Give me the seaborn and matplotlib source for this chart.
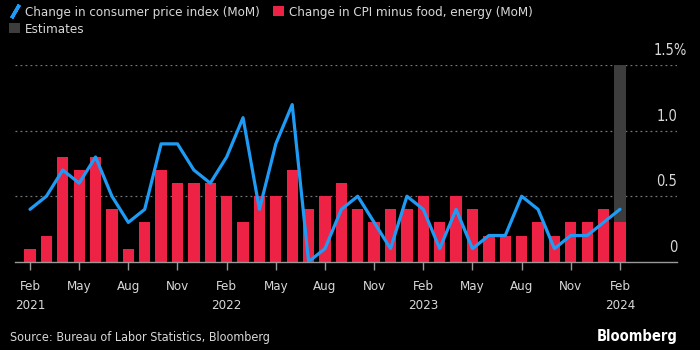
import numpy as np
import pandas as pd
import seaborn as sns
import matplotlib.pyplot as plt
from matplotlib.lines import Line2D
from matplotlib.patches import Patch

# monthly data, Feb 2021 .. Feb 2024
months = pd.date_range('2021-02-01', '2024-02-01', freq='MS')
cpi = [0.4, 0.5, 0.7, 0.6, 0.8, 0.5, 0.3, 0.4, 0.9, 0.9, 0.7,
       0.6, 0.8, 1.1, 0.4, 0.9, 1.2, 0.0, 0.1, 0.4, 0.5, 0.3, 0.1,
       0.5, 0.4, 0.1, 0.4, 0.1, 0.2, 0.2, 0.5, 0.4, 0.1, 0.2, 0.2,
       0.3, 0.4]
core = [0.1, 0.2, 0.8, 0.7, 0.8, 0.4, 0.1, 0.3, 0.7, 0.6, 0.6,
        0.6, 0.5, 0.3, 0.5, 0.5, 0.7, 0.4, 0.5, 0.6, 0.4, 0.3, 0.4,
        0.4, 0.5, 0.3, 0.5, 0.4, 0.2, 0.2, 0.2, 0.3, 0.2, 0.3, 0.3,
        0.4, 0.3]
estimate_month = '2024-02-01'
estimate_top = 1.5

y_ticks = [0, 0.5, 1.0, 1.5]
y_labels = ['0', '0.5', '1.0', '1.5%']

df = pd.DataFrame({'month': months, 'cpi': cpi, 'core': core})
df['idx'] = np.arange(len(df))
est_idx = int(df.loc[df['month'] == pd.Timestamp(estimate_month), 'idx'].iloc[0])

BLUE = '#1e9cf5'
RED = '#ee2244'
GRAY = '#3d3d3d'
TXT = '#d8d8d8'

sns.set_theme(style='dark')
plt.rcParams['font.family'] = ['DejaVu Sans', 'Liberation Sans']
plt.rcParams['font.stretch'] = 'condensed'

fig = plt.figure(figsize=(7, 3.5), dpi=100, facecolor='black')
ax = fig.add_axes([15/700, (350-261.7)/350, (677-15)/700, (261.7-65.3)/350])
ax.set_facecolor('black')

# estimates bar behind everything
ax.bar(est_idx, estimate_top, width=0.69, color=GRAY, linewidth=0, zorder=1)

sns.barplot(data=df, x='idx', y='core', native_scale=True, width=0.69,
            color=RED, saturation=1, linewidth=0, edgecolor='none', ax=ax, zorder=2)
sns.lineplot(data=df, x='idx', y='cpi', color=BLUE, lw=2.3, ax=ax, zorder=3)

ax.set_xlim(-0.915, 39.48)
ax.set_ylim(0, 1.5)
ax.set_xlabel('')
ax.set_ylabel('')

for s in ['top', 'right', 'left']:
    ax.spines[s].set_visible(False)
ax.spines['bottom'].set_color('#9a9a9a')
ax.spines['bottom'].set_linewidth(1)

# dotted gridlines
for v in y_ticks[1:]:
    ax.axhline(v, color='#777777', lw=0.9, ls=(0, (1.5, 2.5)), zorder=0)

ax.set_yticks([])
for v, lab in zip(y_ticks, y_labels):
    dx = 10 if lab.endswith('%') else 0
    ax.annotate(lab, xy=(1, v), xycoords=('axes fraction', 'data'),
                xytext=(dx, 7), textcoords='offset pixels',
                ha='right', va='bottom', color=TXT, fontsize=10.5)

xt = df['idx'][::3]
xl = []
for m in df['month'][::3]:
    lab = m.strftime('%b')
    if m.month == 2:
        lab += '\n' + str(m.year)
    xl.append(lab)
ax.set_xticks(xt)
ax.set_xticklabels(xl, color=TXT, fontsize=9.5, linespacing=1.6, va='top')
ax.tick_params(axis='x', length=6, width=1, color='#9a9a9a', pad=7,
               direction='out', bottom=True)
ax.grid(False)

handles = [
    Line2D([], [], color=BLUE, lw=0, marker=(2, 2, -30), markersize=11,
           markeredgewidth=2.5, markeredgecolor=BLUE),
    Patch(color=GRAY, linewidth=0),
    Patch(color=RED, linewidth=0),
]
labels = ['Change in consumer price index (MoM)', 'Estimates',
          'Change in CPI minus food, energy (MoM)']
leg = fig.legend(handles, labels, loc='upper left', bbox_to_anchor=(0.0, 1.01),
                 ncol=2, frameon=False, fontsize=9.5, handlelength=0.8,
                 handleheight=0.8, handletextpad=0.4, columnspacing=1.0,
                 labelspacing=0.3, borderaxespad=0.3)
for t in leg.get_texts():
    t.set_color(TXT)

fig.text(10/700, 1 - 338/350, 'Source: Bureau of Labor Statistics, Bloomberg',
         color=TXT, fontsize=9, va='center', ha='left')
fig.text(678/700, 1 - 336/350, 'Bloomberg', color='white', fontsize=10.5,
         fontweight='bold', va='center', ha='right')

fig.savefig('out.png', dpi=100, facecolor='black')
